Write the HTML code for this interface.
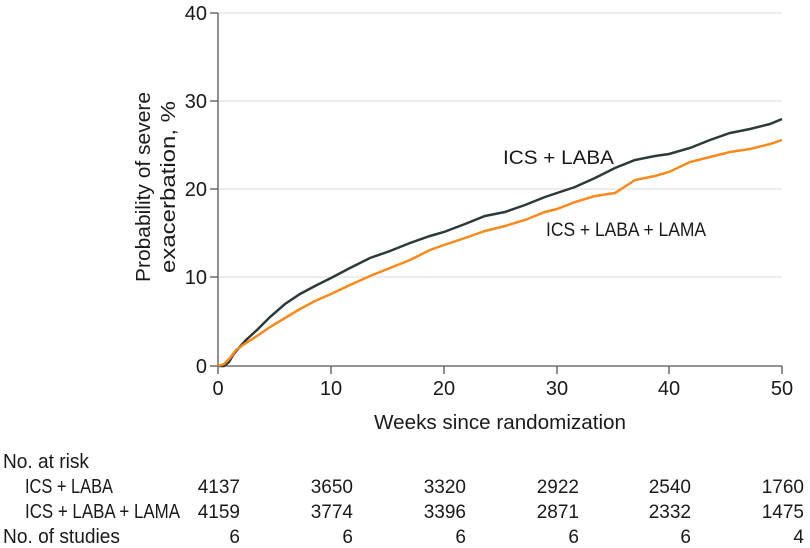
<!DOCTYPE html>
<html><head><meta charset="utf-8"><style>
body{margin:0;background:#fff;}
svg{display:block;font-family:"Liberation Sans",sans-serif;}
text{fill:#1a1a1a;}
</style></head><body>
<svg width="810" height="548" viewBox="0 0 810 548">
<g stroke="#d9d9d9" stroke-width="1">
<line x1="218" y1="13" x2="782" y2="13"/>
<line x1="218" y1="101" x2="782" y2="101"/>
<line x1="218" y1="189" x2="782" y2="189"/>
<line x1="218" y1="277" x2="782" y2="277"/>
</g>
<g stroke="#555" stroke-width="1.3">
<line x1="218" y1="13" x2="218" y2="366"/>
<line x1="218" y1="366" x2="782" y2="366"/>
<line x1="210" y1="13" x2="218" y2="13"/>
<line x1="210" y1="101" x2="218" y2="101"/>
<line x1="210" y1="189" x2="218" y2="189"/>
<line x1="210" y1="277" x2="218" y2="277"/>
<line x1="210" y1="366" x2="218" y2="366"/>
<line x1="218" y1="366" x2="218" y2="374"/>
<line x1="331" y1="366" x2="331" y2="374"/>
<line x1="444" y1="366" x2="444" y2="374"/>
<line x1="557" y1="366" x2="557" y2="374"/>
<line x1="669" y1="366" x2="669" y2="374"/>
<line x1="782" y1="366" x2="782" y2="374"/>
</g>
<g font-size="20" text-anchor="end">
<text x="207" y="20">40</text><text x="207" y="108">30</text><text x="207" y="196">20</text><text x="207" y="284">10</text><text x="207" y="373">0</text>
</g>
<g font-size="20" text-anchor="middle">
<text x="218" y="395">0</text><text x="331" y="395">10</text><text x="444" y="395">20</text><text x="557" y="395">30</text><text x="669" y="395">40</text><text x="782" y="395">50</text>
<text x="500" y="429" textLength="252" lengthAdjust="spacingAndGlyphs">Weeks since randomization</text>
<text transform="translate(150,187) rotate(-90)" textLength="190" lengthAdjust="spacingAndGlyphs">Probability of severe</text>
<text transform="translate(175,187) rotate(-90)" textLength="172" lengthAdjust="spacingAndGlyphs">exacerbation, %</text>
</g>
<polyline fill="none" stroke="#2c3a3a" stroke-width="2.5" points="218,366 224,366 229,362 233,355 238,349 246,340 257,330 270,317 285,304 300,294 315,286 331,278 350,268 370,258 390,251 410,243 430,236 444,232 465,224 485,216 505,212 525,205 545,197 557,193 575,187 595,178 615,168 635,160 655,156 669,154 690,148 710,140 730,133 750,129 770,124 782,119"/>
<polyline fill="none" stroke="#f68a1e" stroke-width="2.5" points="218,366 224,364 230,358 236,350 246,343 257,336 270,327 285,318 300,309 315,301 331,294 350,285 370,276 390,268 410,260 430,250 444,245 465,238 485,231 505,226 525,220 545,212 557,209 575,202 595,196 615,193 635,180 655,176 669,172 690,162 710,157 730,152 750,149 770,144 782,140"/>
<g font-size="19">
<text x="503" y="164" textLength="111" lengthAdjust="spacingAndGlyphs">ICS + LABA</text>
<text x="546" y="236" textLength="160" lengthAdjust="spacingAndGlyphs">ICS + LABA + LAMA</text>
</g>
<g font-size="20">
<text x="3" y="468" textLength="86" lengthAdjust="spacingAndGlyphs">No. at risk</text>
<text x="25" y="493" textLength="88" lengthAdjust="spacingAndGlyphs">ICS + LABA</text>
<text x="25" y="518" textLength="155" lengthAdjust="spacingAndGlyphs">ICS + LABA + LAMA</text>
<text x="3" y="543" textLength="117" lengthAdjust="spacingAndGlyphs">No. of studies</text>
</g>
<g font-size="19" text-anchor="end">
<text x="240" y="493">4137</text><text x="353" y="493">3650</text><text x="466" y="493">3320</text><text x="579" y="493">2922</text><text x="691" y="493">2540</text><text x="804" y="493">1760</text>
<text x="240" y="518">4159</text><text x="353" y="518">3774</text><text x="466" y="518">3396</text><text x="579" y="518">2871</text><text x="691" y="518">2332</text><text x="804" y="518">1475</text>
<text x="240" y="543">6</text><text x="353" y="543">6</text><text x="466" y="543">6</text><text x="579" y="543">6</text><text x="691" y="543">6</text><text x="804" y="543">4</text>
</g>
</svg>
</body></html>
